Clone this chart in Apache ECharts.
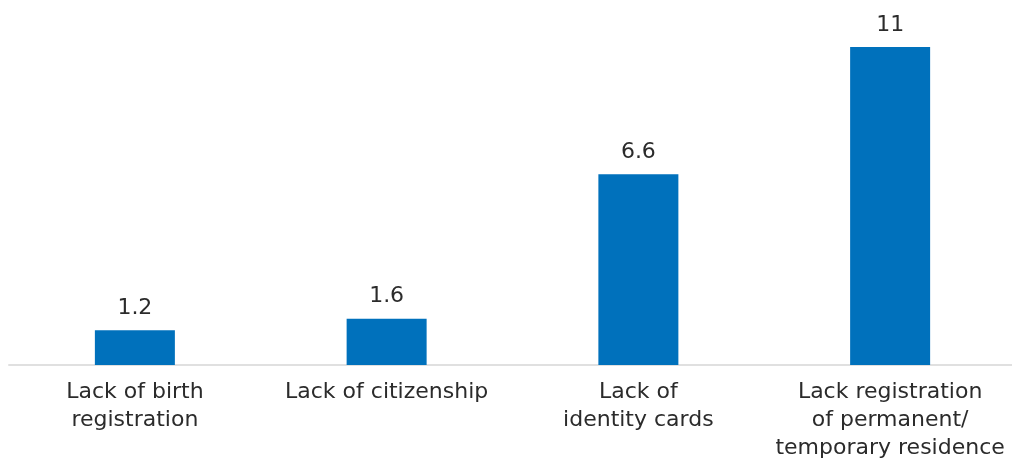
<!DOCTYPE html>
<html>
<head>
<meta charset="utf-8">
<script src="https://cdn.jsdelivr.net/npm/echarts@6/dist/echarts.min.js"></script>
<style>html,body{margin:0;padding:0;background:#fff;overflow:hidden;}#c{width:1016px;height:459px;}</style>
</head>
<body>
<div id="c"></div>
<script>
var categories = ['Lack of birth\nregistration', 'Lack of citizenship', 'Lack of\nidentity cards', 'Lack registration\nof permanent/\ntemporary residence'];
var values = [1.2, 1.6, 6.6, 11];
var chart = echarts.init(document.getElementById('c'), null, {renderer: 'canvas'});
chart.setOption({
  animation: false,
  grid: {left: 9, top: 47, right: 0, bottom: 94, containLabel: false, outerBoundsMode: 'none'},
  xAxis: {
    type: 'category', data: categories,
    axisLine: {lineStyle: {color: '#e0e0e0', width: 2}},
    axisTick: {show: false},
    axisLabel: {color: '#2b2b2b', fontSize: 22, lineHeight: 28, margin: 13, interval: 0, fontFamily: '"DejaVu Sans", sans-serif'}
  },
  yAxis: {type: 'value', min: 0, max: 11, show: false, splitLine: {show: false}},
  series: [{
    type: 'bar', data: values, barWidth: 80,
    itemStyle: {color: '#0071bc'},
    label: {show: true, position: 'top', distance: 11, color: '#2b2b2b', fontSize: 22, fontFamily: '"DejaVu Sans", sans-serif'}
  }]
});
</script>
</body>
</html>
